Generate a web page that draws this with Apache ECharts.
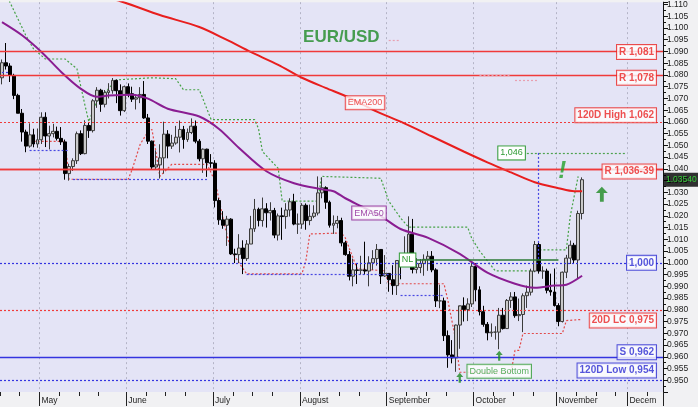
<!DOCTYPE html>
<html><head><meta charset="utf-8">
<script src="https://cdn.jsdelivr.net/npm/echarts@6/dist/echarts.min.js"></script>
<style>html,body{margin:0;padding:0;background:#f1f1f3;}#c{width:698px;height:407px;}</style>
</head><body><div id="c"></div>
<script>
// ---------------- DATA ----------------
const N_SLOTS = 168; // daily slots on the x axis (including empty future slots)
const monthIdx = [10, 32, 54, 76, 98, 120, 141, 159];
const monthNames = ['May','June','July','August','September','October','November','December'];

const opens = [1.0788,1.0852,1.0838,1.0798,1.0713,1.0637,1.0557,1.0497,1.0545,1.0506,1.0524,1.0620,1.0540,1.0550,1.0560,1.0530,1.0515,1.0380,1.0410,1.0435,1.0550,1.0465,1.0585,1.0563,1.0690,1.0735,1.0675,1.0725,1.0733,1.0777,1.0733,1.0648,1.0750,1.0720,1.0697,1.0703,1.0717,1.0617,1.0518,1.0408,1.0417,1.0447,1.0548,1.0497,1.0510,1.0535,1.0568,1.0525,1.0555,1.0582,1.0518,1.0443,1.0484,1.0426,1.0424,1.0265,1.0183,1.0160,1.0186,1.0038,1.0035,1.0063,1.0018,1.0080,1.0145,1.0228,1.0180,1.0230,1.0213,1.0223,1.0118,1.0200,1.0197,1.0225,1.0260,1.0165,1.0165,1.0245,1.0180,1.0198,1.0212,1.0298,1.0320,1.0258,1.0160,1.0168,1.0180,1.0085,1.0035,0.9943,0.9970,0.9968,0.9970,0.9965,1.0000,1.0018,1.0057,0.9944,0.9955,0.9928,0.9903,1.0010,1.0000,1.0040,1.0122,0.9972,0.9980,0.9997,1.0015,1.0028,0.9970,0.9838,0.9838,0.9690,0.9608,0.9595,0.9735,0.9817,0.9801,0.9825,0.9985,0.9885,0.9792,0.9738,0.9702,0.9705,0.9705,0.9777,0.9720,0.9840,0.9855,0.9775,0.9780,0.9860,0.9875,0.9965,1.0078,0.9965,0.9965,0.9883,0.9876,0.9818,0.9750,0.9960,1.0020,1.0075,1.0012,1.0210];
const highs = [1.0866,1.0936,1.0850,1.0805,1.0720,1.0655,1.0567,1.0594,1.0571,1.0572,1.0641,1.0641,1.0584,1.0592,1.0580,1.0578,1.0525,1.0422,1.0445,1.0559,1.0564,1.0607,1.0599,1.0697,1.0748,1.0741,1.0736,1.0765,1.0787,1.0780,1.0760,1.0755,1.0764,1.0750,1.0710,1.0748,1.0774,1.0634,1.0521,1.0479,1.0505,1.0601,1.0565,1.0545,1.0583,1.0606,1.0583,1.0572,1.0615,1.0606,1.0527,1.0487,1.0486,1.0463,1.0437,1.0275,1.0220,1.0200,1.0190,1.0060,1.0122,1.0096,1.0097,1.0200,1.0272,1.0235,1.0278,1.0254,1.0258,1.0234,1.0210,1.0235,1.0254,1.0275,1.0294,1.0210,1.0254,1.0253,1.0248,1.0245,1.0368,1.0364,1.0326,1.0265,1.0202,1.0200,1.0192,1.0094,1.0050,1.0018,0.9999,1.0030,1.0090,1.0028,1.0054,1.0080,1.0057,1.0033,0.9955,0.9990,1.0011,1.0030,1.0113,1.0198,1.0187,1.0020,1.0016,1.0036,1.0050,1.0050,0.9977,0.9907,0.9852,0.9712,0.9671,0.9737,0.9815,0.9853,0.9849,0.9999,0.9999,0.9900,0.9817,0.9748,0.9742,0.9730,0.9808,0.9808,0.9846,0.9875,0.9876,0.9848,0.9870,0.9903,0.9975,1.0093,1.0088,0.9985,0.9975,0.9954,0.9976,0.9828,0.9963,1.0034,1.0095,1.0085,1.0222,1.0364];
const lows = [1.0760,1.0823,1.0770,1.0697,1.0637,1.0516,1.0471,1.0490,1.0492,1.0490,1.0506,1.0493,1.0483,1.0534,1.0521,1.0502,1.0354,1.0350,1.0391,1.0421,1.0459,1.0462,1.0532,1.0555,1.0660,1.0643,1.0662,1.0700,1.0720,1.0680,1.0627,1.0642,1.0705,1.0685,1.0653,1.0680,1.0613,1.0506,1.0398,1.0397,1.0359,1.0380,1.0445,1.0485,1.0503,1.0470,1.0486,1.0515,1.0548,1.0509,1.0432,1.0383,1.0366,1.0405,1.0236,1.0162,1.0145,1.0072,1.0034,0.9999,0.9999,0.9952,1.0008,1.0080,1.0132,1.0155,1.0154,1.0150,1.0180,1.0105,1.0095,1.0098,1.0145,1.0197,1.0160,1.0123,1.0145,1.0141,1.0160,1.0190,1.0202,1.0275,1.0230,1.0150,1.0123,1.0147,1.0070,1.0030,0.9925,0.9900,0.9910,0.9950,0.9950,0.9900,0.9970,0.9988,0.9910,0.9940,0.9877,0.9864,0.9863,0.9930,0.9993,1.0040,0.9955,0.9955,0.9956,0.9945,0.9966,0.9960,0.9812,0.9807,0.9667,0.9553,0.9572,0.9536,0.9634,0.9750,0.9752,0.9812,0.9836,0.9776,0.9728,0.9670,0.9685,0.9673,0.9632,0.9716,0.9722,0.9808,0.9766,0.9752,0.9705,0.9808,0.9861,0.9960,0.9954,0.9932,0.9870,0.9860,0.9814,0.9730,0.9746,0.9935,0.9995,0.9995,0.9935,1.0185];
const closes = [1.0852,1.0838,1.0798,1.0713,1.0637,1.0557,1.0497,1.0545,1.0506,1.0524,1.0620,1.0540,1.0550,1.0560,1.0530,1.0515,1.0380,1.0410,1.0435,1.0550,1.0465,1.0585,1.0563,1.0690,1.0735,1.0675,1.0725,1.0733,1.0777,1.0733,1.0648,1.0750,1.0720,1.0697,1.0703,1.0717,1.0617,1.0518,1.0408,1.0417,1.0447,1.0548,1.0497,1.0510,1.0535,1.0568,1.0525,1.0555,1.0582,1.0518,1.0443,1.0484,1.0426,1.0424,1.0265,1.0183,1.0160,1.0186,1.0038,1.0035,1.0063,1.0018,1.0080,1.0145,1.0228,1.0180,1.0230,1.0213,1.0223,1.0118,1.0200,1.0197,1.0225,1.0260,1.0165,1.0165,1.0245,1.0180,1.0198,1.0212,1.0298,1.0320,1.0258,1.0160,1.0168,1.0180,1.0085,1.0035,0.9943,0.9970,0.9968,0.9970,0.9965,1.0000,1.0018,1.0057,0.9944,0.9955,0.9928,0.9903,1.0010,1.0000,1.0040,1.0122,0.9972,0.9980,0.9997,1.0015,1.0028,0.9970,0.9838,0.9838,0.9690,0.9608,0.9595,0.9735,0.9817,0.9801,0.9825,0.9985,0.9885,0.9792,0.9738,0.9702,0.9705,0.9705,0.9777,0.9720,0.9840,0.9855,0.9775,0.9780,0.9860,0.9875,0.9965,1.0078,0.9965,0.9965,0.9883,0.9876,0.9818,0.9750,0.9960,1.0020,1.0075,1.0012,1.0210,1.0354];

const ema200 = [[20,1.1156],[30,1.1114],[40,1.1055],[50,1.1004],[57,1.0949],[63,1.0898],[70,1.0843],[76,1.0788],[82,1.0745],[88,1.0703],[95,1.0644],[101,1.0601],[109,1.0538],[117,1.0474],[123,1.0428],[129,1.0385],[135,1.0343],[141,1.0318],[145,1.0305],[147,1.0305]];
const ema50 = [[0,1.1025],[5,1.0970],[10,1.0898],[15,1.0813],[20,1.0741],[24,1.0707],[27,1.0712],[33,1.0716],[37,1.0699],[42,1.0656],[50,1.0623],[55,1.0570],[60,1.0490],[67,1.0390],[74,1.0339],[81,1.0313],[84,1.0305],[87,1.0275],[91,1.0241],[96,1.0199],[101,1.0144],[108,1.0106],[116,1.0038],[123,0.9958],[130,0.9911],[135,0.9894],[140,0.9903],[143,0.9907],[147,0.9945]];

const highChannel = [[0,1.1194],[2,1.1110],[6,1.0970],[8,1.0911],[11,1.0868],[16,1.0868],[19,1.0826],[21,1.0673],[22,1.0601],[24,1.0686],[29,1.0779],[38,1.0788],[44,1.0784],[46,1.0737],[50,1.0737],[53,1.0610],[64,1.0610],[65,1.0572],[66,1.0474],[70,1.0402],[71,1.0263],[80,1.0263],[81,1.0368],[96,1.0360],[98,1.0263],[101,1.0191],[103,1.0152],[118,1.0152],[119,1.0106],[121,1.0051],[125,0.9966],[135,0.9966],[136,1.0055],[143,1.0055],[144,1.0199],[146,1.0368]];
const lowChannel = [[6,1.0517],[16,1.0517],[17,1.0356],[32,1.0356],[33,1.0398],[35,1.0504],[37,1.0559],[38,1.0568],[39,1.0474],[40,1.0368],[43,1.0419],[52,1.0419],[54,1.0347],[56,1.0191],[58,1.0051],[62,0.9953],[76,0.9953],[77,1.0008],[78,1.0123],[86,1.0127],[87,1.0106],[90,0.9975],[97,0.9966],[98,0.9911],[112,0.9911],[113,0.9839],[115,0.9670],[116,0.9534],[129,0.9534],[130,0.9627],[131,0.9627],[132,0.9699],[142,0.9699],[143,0.9754],[147,0.9759]];
const blueSegments = [[0,2,1.0813],[7,17,1.0479],[18,52,1.0356],[62,101,0.9953],[101,112,0.9860]];
const pinkSegments = [[98,101,1.0949],[121,129,1.0800],[130,136,1.0779]];

const levelValues = [1.0898,1.0788,1.0628,1.0397,1.0367,1.0000,0.9754,0.9619,0.9542];
const levelNames = ['R 1,081','R 1,078','120D High 1,062','R 1,036-39','','1,000','20D LC 0,975','S 0,962','120D Low 0,954'];
const lastPrice = 1.0354;
const lastPriceText = '1.03540';
const neckValue = 1.0012, neckFrom = 105, neckTo = 141, neckText = 'NL';
const targetValue = 1.0468, targetFrom = 133, targetTo = 158, targetText = '1,046';
const targetDrop = [136, 1.0468, 1.0012];
const notes = [[86,1.0961,'EUR/USD'],[92,1.0682,'EMA200'],[93,1.0212,'EMA50'],[126,0.9538,'Double Bottom'],[142,1.0390,'!']];
const arrowsSmall = [[116,0.9511],[126,0.9604]];
const arrowsBig = [[152,1.0292]];

// ---------------- STYLE / BUILD ----------------
const RED = '#ea2424', BLUE = '#2a2ad2', GREEN = '#2f9a34', PURPLE = '#8a1d92';
const FONT = 'Arial, "Liberation Sans", sans-serif';
const cats = Array.from({length: N_SLOTS}, (_, i) => 'd' + i);
const monthSet = new Set(monthIdx);
const lastMonth = monthIdx[monthIdx.length - 1];
const weekSet = new Set();
monthIdx.forEach((m, k) => {
  weekSet.add(m);
  const next = k + 1 < monthIdx.length ? monthIdx[k + 1] : N_SLOTS + 5;
  for (let t = m + 5; t < next - 2; t += 5) weekSet.add(t);
});
for (let t = monthIdx[0] - 5; t >= 0; t -= 5) weekSet.add(t);

const candleData = opens.map((o, i) => [o, closes[i], lows[i], highs[i]]);

const levelKind = ['rs','rs','rd','rs','rs','bd','rd','bs','bd'];
function lineStyleOf(kind) {
  const red = kind[0] === 'r';
  const dotted = kind[1] === 'd';
  return { color: red ? '#f03a3a' : '#3434e0', width: dotted ? 1.2 : 1.4, type: dotted ? [2, 2] : 'solid', opacity: 1 };
}
function boxLabel(color, size, bold) {
  return { show: true, color: color, fontSize: size, fontWeight: bold ? 'bold' : 'normal', fontFamily: FONT,
    backgroundColor: '#ffffff', borderColor: color, borderWidth: 1, padding: [2, 2, 1, 2], lineHeight: size + 1 };
}

const levelLines = levelValues.map((v, i) => ({ yAxis: v, lineStyle: lineStyleOf(levelKind[i]), label: { show: false } }));
const segLines = [];
blueSegments.forEach(s => {
  const ls = { color: '#4848e2', width: 1.2, type: [2, 2] };
  segLines.push([{ coord: [s[0], s[2]], lineStyle: ls, label: { show: false } }, { coord: [s[1], s[2]], lineStyle: ls }]);
});
pinkSegments.forEach(s => {
  const ls = { color: '#e8a0b0', width: 1.2, type: [2, 2] };
  segLines.push([{ coord: [s[0], s[2]], lineStyle: ls, label: { show: false } }, { coord: [s[1], s[2]], lineStyle: ls }]);
});
const neckLs = { color: '#2b7a34', width: 1.6, type: 'solid' };
segLines.push([{ coord: [neckFrom, neckValue], lineStyle: neckLs,
  label: Object.assign(boxLabel(GREEN, 9, false), { position: 'start', distance: 1, formatter: neckText }) },
  { coord: [neckTo, neckValue], lineStyle: neckLs }]);
const tgtLs = { color: '#4ea24e', width: 1.2, type: [2, 2] };
segLines.push([{ coord: [targetFrom, targetValue], lineStyle: tgtLs,
  label: Object.assign(boxLabel(GREEN, 9, false), { position: 'start', distance: 2, formatter: targetText }) },
  { coord: [targetTo, targetValue], lineStyle: tgtLs }]);
const dropLs = { color: '#4848e2', width: 1.2, type: [2, 2] };
segLines.push([{ coord: [targetDrop[0], targetDrop[1]], lineStyle: dropLs, label: { show: false } },
  { coord: [targetDrop[0], targetDrop[2]], lineStyle: dropLs }]);

// right-edge level labels
const labelPoints = [];
levelValues.forEach((v, i) => {
  if (!levelNames[i]) return;
  const kind = levelKind[i];
  const color = kind[0] === 'r' ? RED : BLUE;
  const lab = Object.assign(boxLabel(color, 10, true), { position: 'left', distance: 5, formatter: levelNames[i] });
  if (levelNames[i + 1] === '') lab.offset = [0, 2];
  labelPoints.push({ value: [N_SLOTS - 1, v], label: lab });
});
labelPoints.push({ value: [N_SLOTS - 1, lastPrice], label: {
  show: true, position: 'right', distance: 3, formatter: lastPriceText, color: '#39f23c', backgroundColor: '#000',
  fontSize: 8.5, fontFamily: FONT, padding: [3, 2, 2, 2], lineHeight: 9 } });

const noteStyle = {
  'EUR/USD': { show: true, color: '#1e8a26', fontSize: 17, fontWeight: 'bold', fontFamily: FONT },
  'EMA200': boxLabel(RED, 9, false),
  'EMA50': boxLabel(PURPLE, 9, false),
  'Double Bottom': boxLabel(GREEN, 9, false),
  '!': { show: true, color: '#23a12a', fontSize: 24, fontWeight: 'bold', fontStyle: 'italic', fontFamily: FONT }
};
notes.forEach(n => {
  labelPoints.push({ value: [n[0], n[1]], label: Object.assign({}, noteStyle[n[2]], { position: 'inside', formatter: n[2] }) });
});

const ARROW = 'path://M5,0L10,5.5L6.6,5.5L6.6,13L3.4,13L3.4,5.5L0,5.5Z';

const option = {
  animation: false,
  backgroundColor: '#f1f1f3',
  grid: { left: 0, right: 35, top: 0, bottom: 15, show: true, backgroundColor: '#e4e4f6', borderWidth: 0 },
  xAxis: [{
    type: 'category', data: cats, boundaryGap: true,
    axisLine: { show: false },
    axisTick: { show: true, interval: (i) => weekSet.has(i), length: 4, lineStyle: { color: '#222' } },
    axisLabel: { interval: (i) => monthSet.has(i) && i !== lastMonth, align: 'left', fontSize: 8.5, color: '#222',
      fontFamily: FONT, margin: 4, formatter: (v, i) => monthNames[monthIdx.indexOf(i)] || '' },
    splitLine: { show: true, interval: (i) => monthSet.has(i), lineStyle: { color: '#b4b4c6', width: 1, type: [2, 3] } }
  }, {
    type: 'category', data: cats, boundaryGap: true, position: 'bottom',
    axisLine: { show: false },
    axisTick: { show: true, interval: (i) => monthSet.has(i), length: 14, lineStyle: { color: '#222' } },
    axisLabel: { interval: (i) => i === lastMonth, align: 'left', fontSize: 8.5, color: '#222', fontFamily: FONT, margin: 4,
      width: 32, overflow: 'truncate', ellipsis: '',
      formatter: (v, i) => monthNames[monthIdx.indexOf(i)] || '' },
    splitLine: { show: false }
  }],
  yAxis: {
    type: 'value', position: 'right', min: 0.945, max: 1.111, interval: 0.005,
    axisLine: { show: true, lineStyle: { color: '#111' } },
    axisTick: { show: true, length: 5, lineStyle: { color: '#111' } },
    minorTick: { show: true, splitNumber: 2, length: 3, lineStyle: { color: '#111' } },
    axisLabel: { fontSize: 8.5, color: '#222', fontFamily: FONT, margin: 4, showMinLabel: false, showMaxLabel: false,
      formatter: (v) => v.toFixed(3) },
    splitLine: { show: false }
  },
  series: [
    { name: 'lines', type: 'line', data: [], z: 2,
      markLine: { silent: true, symbol: ['none', 'none'], animation: false, data: levelLines.concat(segLines) } },
    { name: 'highChannel', type: 'line', data: highChannel, showSymbol: false, z: 1,
      lineStyle: { color: '#46a246', width: 1.2, type: [2, 2] } },
    { name: 'lowChannel', type: 'line', data: lowChannel, showSymbol: false, z: 1,
      lineStyle: { color: '#e24a4a', width: 1.2, type: [2, 2] } },
    { name: 'EURUSD', type: 'candlestick', data: candleData, barWidth: 3.4, z: 3,
      itemStyle: { color: '#c9c9c9', color0: '#000000', borderColor: '#3c3c3c', borderColor0: '#000000', borderWidth: 1 } },
    { name: 'EMA200', type: 'line', data: ema200, showSymbol: false, smooth: 0.3, z: 4,
      lineStyle: { color: '#e81e1e', width: 2 } },
    { name: 'EMA50', type: 'line', data: ema50, showSymbol: false, smooth: 0.3, z: 4,
      lineStyle: { color: PURPLE, width: 2 } },
    { name: 'arrowsSmall', type: 'scatter', data: arrowsSmall, symbol: ARROW, symbolSize: [7, 10], z: 6,
      itemStyle: { color: '#1d8a22' } },
    { name: 'arrowsBig', type: 'scatter', data: arrowsBig, symbol: ARROW, symbolSize: [12, 15], z: 6,
      itemStyle: { color: '#1d8a22' } },
    { name: 'labels', type: 'scatter', data: labelPoints, symbolSize: 0, z: 10, clip: false,
      itemStyle: { color: 'transparent' } }
  ]
};
const chart = echarts.init(document.getElementById('c'), null, { renderer: 'canvas' });
chart.setOption(option);
</script></body></html>
